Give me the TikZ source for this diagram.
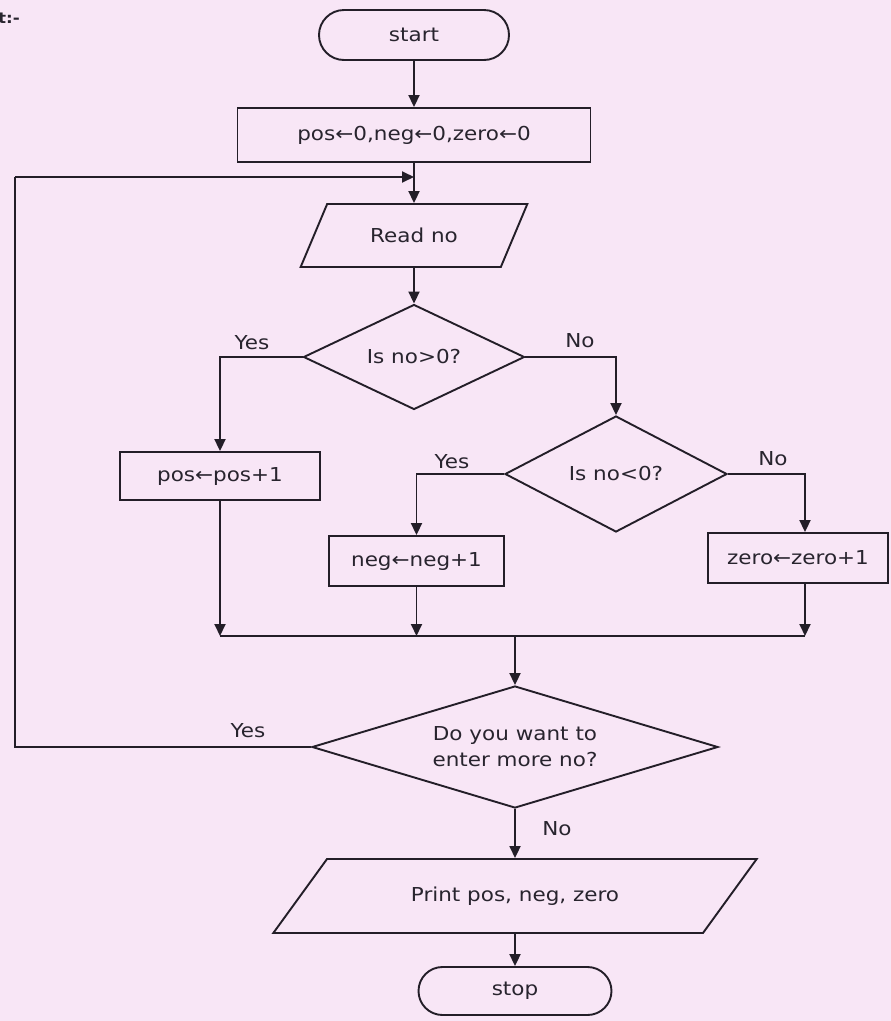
\documentclass[tikz,border=0pt]{standalone}
\usepackage{fontspec}
\setmainfont{DejaVu Sans}[FakeStretch=1.12]
\usetikzlibrary{shapes.geometric,shapes.misc,arrows.meta}
\definecolor{bgc}{RGB}{248,230,246}
\definecolor{ink}{RGB}{35,30,40}
\definecolor{txt}{RGB}{40,36,46}
\tikzset{
  base/.style={draw=ink, line width=1.9pt, inner sep=0pt, text=txt, font=\fontsize{19.2}{26}\selectfont, align=center},
  term/.style={base, rounded rectangle},
  procbox/.style={base, rectangle},
  iobox/.style={base, trapezium, trapezium stretches=true},
  decide/.style={base, diamond},
  lbl/.style={text=txt, font=\fontsize{19.2}{26}\selectfont, inner sep=0pt},
  conn/.style={draw=ink, line width=1.9pt},
  arr/.style={conn, -{Triangle[length=12pt,width=11pt]}}
}
\begin{document}
\begin{tikzpicture}[x=1pt,y=-1pt]
\fill[bgc] (0,0) rectangle (891,1021);
\useasboundingbox (0,0) rectangle (891,1021);
\node[lbl, anchor=west, font=\fontsize{15}{17}\selectfont\bfseries] (hdr) at (-2,18) {t:-};
% nodes
\node[term, minimum width=190pt, minimum height=50pt] (start) at (414,35) {start};
\node[procbox, minimum width=353pt, minimum height=54pt] (init) at (414,135) {pos←0,neg←0,zero←0};
\node[iobox, trapezium left angle=48, trapezium right angle=132, minimum width=227pt, minimum height=63pt] (rd) at (414,235.5) {Read no};
\node[decide, aspect=2.1, minimum width=221pt, minimum height=105pt] (d1) at (414,357) {Is no>0?};
\node[procbox, minimum width=200pt, minimum height=48pt] (pos) at (220,476) {pos←pos+1};
\node[decide, aspect=1.9, minimum width=222pt, minimum height=116pt] (d2) at (616,474) {Is no<0?};
\node[procbox, minimum width=175pt, minimum height=50pt] (neg) at (416.5,561) {neg←neg+1};
\node[procbox, minimum width=180pt, minimum height=50pt] (zero) at (798,558) {zero←zero+1};
\node[decide, aspect=3.33, minimum width=406pt, minimum height=122pt] (d3) at (515,747) {Do you want to\\enter more no?};
\node[iobox, trapezium left angle=32, trapezium right angle=148, minimum width=485pt, minimum height=74pt] (pr) at (515,896) {Print pos, neg, zero};
\node[term, minimum width=193pt, minimum height=48pt] (stop) at (515,991) {stop};
% labels
\node[lbl] (y1) at (252,343) {Yes};
\node[lbl] (n1) at (580,341) {No};
\node[lbl] (y2) at (452,462) {Yes};
\node[lbl] (n2) at (773,459) {No};
\node[lbl] (y3) at (248,731) {Yes};
\node[lbl] (n3) at (557,829) {No};
% coordinates
\coordinate (lp) at (15,177);
\coordinate (jn) at (414,177);
\coordinate (m) at (515,636);
\coordinate (zx) at (805,558);
% connectors
\draw[arr] (start) -- (init);
\draw[arr] (init) -- (rd);
\draw[arr] (rd) -- (d1);
\draw[arr] (d1.west) -| (pos.north);
\draw[arr] (d1.east) -| (d2.north);
\draw[arr] (d2.west) -| (neg.north);
\draw[arr] (d2.east) -| (zx |- zero.north);
\draw[arr] (pos.south) -- (pos.south |- m);
\draw[arr] (neg.south) -- (neg.south |- m);
\draw[arr] (zx |- zero.south) -- (zx |- m);
\draw[conn] (pos.south |- m) -- (zx |- m);
\draw[arr] (m) -- (d3.north);
\draw[conn] (d3.west) -| (lp);
\draw[arr] (lp) -- (jn);
\draw[arr] (d3.south) -- (pr.north);
\draw[arr] (pr) -- (stop);
\end{tikzpicture}
\end{document}
